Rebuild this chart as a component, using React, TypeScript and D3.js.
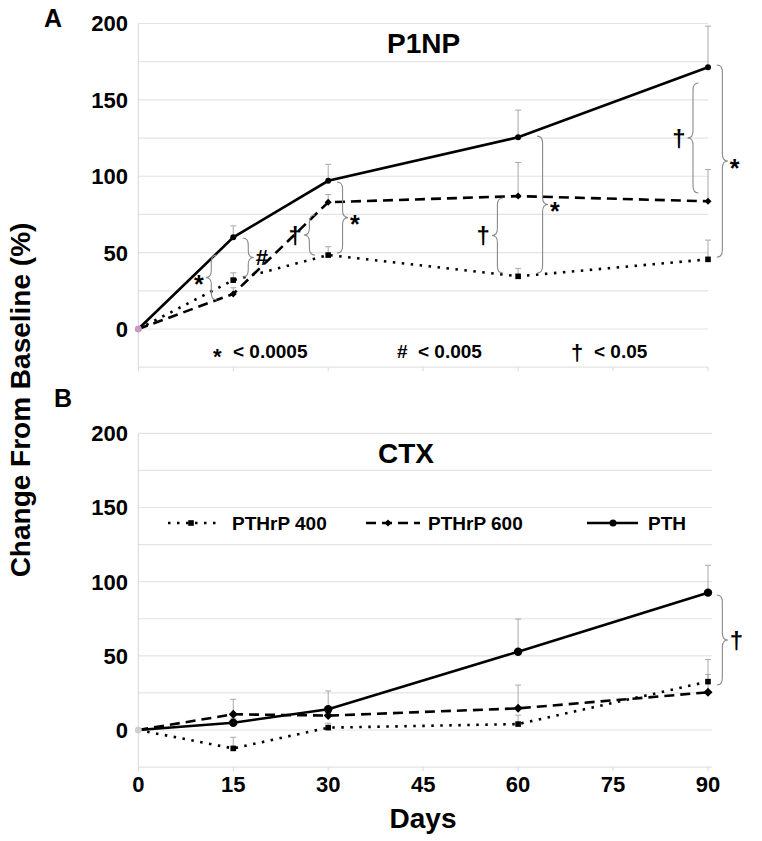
import React from "react";
import * as d3 from "d3";

const days = [0, 15, 30, 60, 90];
const xTicks = [0, 15, 30, 45, 60, 75, 90];
const yTicks = [0, 50, 100, 150, 200];
const gridVals = [-25, 0, 25, 50, 75, 100, 125, 150, 175, 200];

// Panel A: P1NP
const p1npPTH = [0, 60, 97, 125.5, 171.3];
const p1npPTH_err = [0, 7.5, 10.8, 17.8, 27];
const p1np600 = [0, 23, 83, 87, 83.6];
const p1np600_err = [0, 4, 5, 22, 20.8];
const p1np400 = [0, 32, 48.4, 34.5, 45.6];
const p1np400_err = [0, 4.8, 5.5, 5.2, 12.6];

// Panel B: CTX
const ctxPTH = [0, 4.9, 14, 52.8, 92.6];
const ctxPTH_err = [0, 3, 12.3, 22, 18.4];
const ctx600 = [0, 10.6, 9.7, 14.6, 25.4];
const ctx600_err = [0, 10.1, 3, 15.7, 12.1];
const ctx400 = [0, -12.4, 1.6, 4, 32.6];
const ctx400_err = [0, 7.5, 3, 6, 15];

// braces: [day at ends, value1, value2, direction, label]
const bracesA: [number, number, number, number, string][] = [
  [12.4, 48.4, 19, -1, "*"],
  [16.5, 59.6, 34, 1, "#"],
  [27.9, 74.6, 48.4, -1, "†"],
  [31.4, 96.2, 49.7, 1, "*"],
  [57.6, 85.8, 36.7, -1, "†"],
  [63, 126.3, 36.7, 1, "*"],
  [88.5, 161, 89, -1, "†"],
  [91.4, 172.8, 47.1, 1, "*"],
];
const bracesB: [number, number, number, number, string][] = [
  [91.4, 91, 30.3, 1, "†"],
];

const sigLabels = [
  { sym: "*", txt: "< 0.0005" },
  { sym: "#", txt: "< 0.005" },
  { sym: "†", txt: "< 0.05" },
];
const legendNames = ["PTHrP 400", "PTHrP 600", "PTH"];

const FONT = "'Liberation Sans', Arial, Helvetica, sans-serif";

const x = d3.scaleLinear().domain([0, 90]).range([138.3, 708]);

function bracePath(x0: number, y1: number, y2: number, dir: number, w: number) {
  const h = (dir * w) / 2;
  const m = (y1 + y2) / 2;
  const r = Math.min(7, Math.abs(y2 - y1) / 4);
  const s = y2 > y1 ? 1 : -1;
  return `M${x0},${y1} Q${x0 + h},${y1} ${x0 + h},${y1 + s * r} L${x0 + h},${m - s * r} Q${x0 + h},${m} ${x0 + 2 * h},${m} Q${x0 + h},${m} ${x0 + h},${m + s * r} L${x0 + h},${y2 - s * r} Q${x0 + h},${y2} ${x0},${y2}`;
}

type Series = { vals: number[]; err: number[]; kind: "pth" | "600" | "400" };

function Panel({
  y,
  series,
  braces,
  big,
}: {
  y: d3.ScaleLinear<number, number>;
  series: Series[];
  braces: [number, number, number, number, string][];
  big: boolean;
}) {
  const line = d3
    .line<number>()
    .x((_, i) => x(days[i]))
    .y((v) => y(v));
  return (
    <g>
      {gridVals.map((g) => (
        <line key={g} x1={x(0)} x2={x(90) + (big ? 4 : 0)} y1={y(g)} y2={y(g)} stroke="#e3e3e3" strokeWidth={1.2} />
      ))}
      <line x1={x(0)} x2={x(0)} y1={y(200)} y2={y(-25)} stroke="#d8d8d8" strokeWidth={1} />
      {xTicks.map((t) => (
        <line key={t} x1={x(t)} x2={x(t)} y1={y(-25)} y2={y(-25) + 4} stroke="#d8d8d8" />
      ))}
      {yTicks.map((t) => (
        <text key={t} x={128} y={y(t)} dy="0.36em" textAnchor="end" fontSize={22} fontWeight="bold" fontFamily={FONT}>
          {t}
        </text>
      ))}
      {series.map((s, si) => (
        <g key={si}>
          {s.vals.map((v, i) =>
            i > 0 && s.err[i] > 0 ? (
              <g key={i}>
                <line x1={x(days[i])} x2={x(days[i])} y1={y(v)} y2={y(v + s.err[i])} stroke="#a8a8a8" strokeWidth={1} />
                <line x1={x(days[i]) - 3} x2={x(days[i]) + 3} y1={y(v + s.err[i])} y2={y(v + s.err[i])} stroke="#a8a8a8" strokeWidth={1} />
              </g>
            ) : null
          )}
        </g>
      ))}
      {series.map((s, si) => (
        <path
          key={si}
          d={line(s.vals) || ""}
          fill="none"
          stroke="#000"
          strokeWidth={2.6}
          strokeDasharray={s.kind === "pth" ? undefined : s.kind === "600" ? "10 6" : "2.5 6.5"}
        />
      ))}
      {series.map((s, si) =>
        s.vals.map((v, i) => {
          if (i === 0) return null;
          const cx = x(days[i]);
          const cy = y(v);
          if (s.kind === "pth") return <circle key={si + "-" + i} cx={cx} cy={cy} r={big ? 4.2 : 3} fill="#000" />;
          if (s.kind === "400") return <rect key={si + "-" + i} x={cx - 2.8} y={cy - 2.8} width={5.6} height={5.6} fill="#000" />;
          const d = big ? 4.5 : 3.5;
          return <path key={si + "-" + i} d={`M${cx},${cy - d} L${cx + d},${cy} L${cx},${cy + d} L${cx - d},${cy} Z`} fill="#000" />;
        })
      )}
      <circle cx={x(0)} cy={y(0)} r={3.5} fill={big ? "#cfcfcf" : "#c89ac8"} />
      {braces.map(([dd, v1, v2, dir, lab], i) => {
        const x0 = x(dd);
        const w = 11;
        const m = (y(v1) + y(v2)) / 2;
        return (
          <g key={i}>
            <path d={bracePath(x0, y(v1), y(v2), dir, w)} fill="none" stroke="#8a8a8a" strokeWidth={1.1} />
            <text
              x={x0 + dir * (w + 2)}
              y={m}
              dy={lab === "*" ? "0.62em" : "0.36em"}
              textAnchor={dir > 0 ? "start" : "end"}
              fontSize={lab === "*" ? 25 : lab === "†" ? 24 : 22}
              fontWeight="bold"
              fontFamily={FONT}
            >
              {lab}
            </text>
          </g>
        );
      })}
    </g>
  );
}

export default function App() {
  const yA = d3.scaleLinear().domain([-25, 200]).range([367.2, 23.5]);
  const yB = d3.scaleLinear().domain([-25, 200]).range([767.1, 433.3]);

  const seriesA: Series[] = [
    { vals: p1np400, err: p1np400_err, kind: "400" },
    { vals: p1np600, err: p1np600_err, kind: "600" },
    { vals: p1npPTH, err: p1npPTH_err, kind: "pth" },
  ];
  const seriesB: Series[] = [
    { vals: ctx400, err: ctx400_err, kind: "400" },
    { vals: ctx600, err: ctx600_err, kind: "600" },
    { vals: ctxPTH, err: ctxPTH_err, kind: "pth" },
  ];

  const sigX = [[213, 233], [397, 418], [571, 594]];
  const legY = 523;

  return (
    <svg width={762} height={841} style={{ position: "absolute", left: 0, top: 0, background: "#fff" }} fontFamily={FONT}>
      <rect width={762} height={841} fill="#fff" />
      <Panel y={yA} series={seriesA} braces={bracesA} big={false} />
      <Panel y={yB} series={seriesB} braces={bracesB} big={true} />

      <text x={44} y={27} fontSize={25} fontWeight="bold">A</text>
      <text x={54} y={407} fontSize={25} fontWeight="bold">B</text>
      <text x={387} y={53} fontSize={28} fontWeight="bold">P1NP</text>
      <text x={378} y={463} fontSize={28} fontWeight="bold">CTX</text>

      {sigLabels.map((s, i) => (
        <g key={i}>
          <text x={sigX[i][0]} y={358} fontSize={s.sym === "*" ? 22 : s.sym === "†" ? 22 : 19} dy={s.sym === "*" ? "0.25em" : s.sym === "†" ? "0.1em" : 0} fontWeight="bold">{s.sym}</text>
          <text x={sigX[i][1]} y={358} fontSize={19} fontWeight="bold">{s.txt}</text>
        </g>
      ))}

      {/* legend */}
      <line x1={168} x2={218} y1={legY} y2={legY} stroke="#000" strokeWidth={2.6} strokeDasharray="2.5 6.5" />
      <rect x={188.2} y={legY - 2.8} width={5.6} height={5.6} fill="#000" />
      <text x={232} y={legY} dy="0.36em" fontSize={19} fontWeight="bold">{legendNames[0]}</text>

      <line x1={366} x2={420} y1={legY} y2={legY} stroke="#000" strokeWidth={2.6} strokeDasharray="10 6" />
      <path d={`M388,${legY - 3.5} L391.5,${legY} L388,${legY + 3.5} L384.5,${legY} Z`} fill="#000" />
      <text x={428} y={legY} dy="0.36em" fontSize={19} fontWeight="bold">{legendNames[1]}</text>

      <line x1={587} x2={638} y1={legY} y2={legY} stroke="#000" strokeWidth={2.6} />
      <circle cx={613} cy={legY} r={3.5} fill="#000" />
      <text x={648} y={legY} dy="0.36em" fontSize={19} fontWeight="bold">{legendNames[2]}</text>

      {xTicks.map((t) => (
        <text key={t} x={x(t)} y={784} dy="0.36em" textAnchor="middle" fontSize={22} fontWeight="bold">{t}</text>
      ))}
      <text x={423} y={828} textAnchor="middle" fontSize={28} fontWeight="bold">Days</text>
      <text transform="translate(30,400) rotate(-90)" textAnchor="middle" fontSize={28} fontWeight="bold">
        Change From Baseline (%)
      </text>
    </svg>
  );
}
